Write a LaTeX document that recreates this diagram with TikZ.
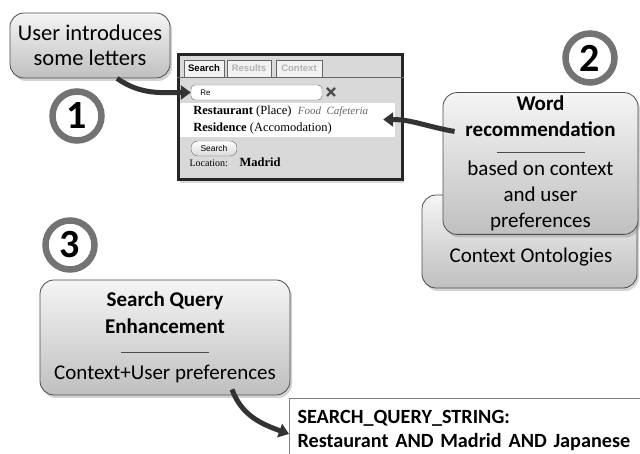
\documentclass[tikz,border=0pt]{standalone}
\usepackage{fontspec}
\setmainfont{Carlito}
\newfontfamily\webserif{Liberation Serif}
\newfontfamily\websans{Liberation Sans}
\usetikzlibrary{shadows,arrows.meta,positioning}

\begin{document}
\begin{tikzpicture}[x=1pt,y=1pt]
        \tikzset{stepbox/.style={draw=black!70, line width=0.8pt, rounded corners=14pt,
                top color=gray!8, bottom color=gray!50, align=center,
                drop shadow={opacity=0.35, shadow xshift=2pt, shadow yshift=-3pt},
                font=\fontsize{21}{25}\selectfont}}
        \tikzset{stepnum/.style={circle, draw=black!55, line width=6.5pt, fill=white,
                minimum size=49pt, inner sep=0pt, font=\fontsize{40}{40}\selectfont\bfseries}}
        \tikzset{flow/.style={line width=5pt, draw=black!80, -{Triangle[length=10pt,width=14pt]}}}
        \tikzset{sep/.style={draw=black!70, line width=0.8pt}}
        \tikzset{tab/.style={draw=black!60, fill=gray!10, minimum height=17pt, inner sep=0pt,
                font=\websans\fontsize{9.5}{10}\selectfont\bfseries}}
        \tikzset{webrow/.style={fill=white, minimum width=215pt, minimum height=17pt, inner sep=0pt}}
        \useasboundingbox (0,0) rectangle (640,454);
        \clip (0,0) rectangle (640,454);
        % step 1
        \node[stepbox, minimum width=160pt, minimum height=65pt, font=\fontsize{22.5}{25}\selectfont] (intro) at (90,408.5) {User introduces\\some letters};
        \node[stepnum] (one) at (77,338) {1};
        % search widget
        \node[draw=black!85, line width=3pt, fill=gray!30, minimum width=224pt, minimum height=125pt,
              drop shadow={opacity=0.3, shadow xshift=2pt, shadow yshift=-3pt}] (panel) at (290,336.5) {};
        \node[tab, minimum width=40pt] (tabsearch) at (204,385.5) {Search};
        \node[tab, minimum width=44pt, text=gray!60] (tabresults) at (249,385.5) {Results};
        \node[tab, minimum width=46pt, text=gray!60] (tabcontext) at (299,385.5) {Context};
        \draw[black!60, line width=0.8pt] (panel.west |- tabsearch.south) -- (panel.east |- tabsearch.south);
        \node[draw=black!60, fill=white, rounded corners=4pt, minimum width=131pt, minimum height=15pt, inner sep=0pt] (field) at (256.5,361.5) {};
        \node[anchor=west, font=\websans\fontsize{8}{9}\selectfont] (typed) at ([xshift=6pt]field.west) {Re};
        \draw[line width=2.2pt, black!70] (327,358) -- (335,366) (327,366) -- (335,358);
        \node[webrow] (row1) at (287.5,342.5) {};
        \node[webrow] (row2) at (287.5,325) {};
        \node[anchor=west, font=\webserif\fontsize{12.5}{13}\selectfont] (item1) at ([xshift=10pt]row1.west)
             {\textbf{Restaurant} (Place)\enspace{\itshape\fontsize{11}{12}\selectfont\color{gray!80!black}Food\enspace Cafeteria}};
        \node[anchor=west, font=\webserif\fontsize{12.5}{13}\selectfont] (item2) at ([xshift=10pt]row2.west)
             {\textbf{Residence} (Accomodation)};
        \node[draw=black!60, rounded corners=7pt, top color=white, bottom color=gray!30, minimum width=46pt,
              minimum height=15pt, inner sep=0pt, font=\websans\fontsize{8.5}{9}\selectfont] (btn) at (214,305.5) {Search};
        \node[anchor=base west, font=\webserif\fontsize{10}{10}\selectfont] (loclabel) at (186,287) {Location:};
        \node[anchor=base west, font=\webserif\fontsize{12.5}{13}\selectfont\bfseries] (locvalue) at (236,287) {Madrid};
        % step 2
        \node[stepnum] (two) at (590,396) {2};
        \node[stepbox, minimum width=215pt, minimum height=93pt] (onto) at (529.5,212.5) {};
        \node[font=\fontsize{21}{25}\selectfont] (ontolabel) at (531,197) {Context Ontologies};
        \node[stepbox, minimum width=195pt, minimum height=141pt, font=\fontsize{21}{26}\selectfont] (rec) at (540.5,290.5)
             {\textbf{Word}\\\textbf{recommendation}\\[13pt]based on context\\and user\\preferences};
        \draw[sep] ([xshift=-44pt,yshift=11.5pt]rec.center) -- ([xshift=44pt,yshift=11.5pt]rec.center);
        % step 3
        \node[stepnum] (three) at (70,209) {3};
        \node[stepbox, minimum width=250pt, minimum height=115pt, font=\fontsize{21}{27}\selectfont] (query) at (165,116.5)
             {\textbf{Search Query}\\\textbf{Enhancement}\\[19pt]Context+User preferences};
        \draw[sep] ([xshift=-44pt,yshift=-14.5pt]query.center) -- ([xshift=44pt,yshift=-14.5pt]query.center);
        \node[draw=black!50, line width=1pt, fill=white, anchor=north west, text width=370pt, align=left,
              inner xsep=8pt, inner ysep=12pt, font=\fontsize{20.2}{24}\selectfont\bfseries] (qstring) at (289,56)
             {SEARCH\_QUERY\_STRING:\\Restaurant AND Madrid AND Japanese};
        % arrows
        \draw[flow] ([xshift=27pt]intro.south) to[out=-35, in=180] (field.west);
        \draw[flow] ([xshift=12pt,yshift=32pt]rec.west) to[out=170, in=0] ([xshift=-12pt,yshift=-8pt]row1.east);
        \draw[flow] ([xshift=67pt,yshift=6pt]query.south) to[out=-70, in=160] ([yshift=-36pt]qstring.north west);
\end{tikzpicture}
\end{document}
